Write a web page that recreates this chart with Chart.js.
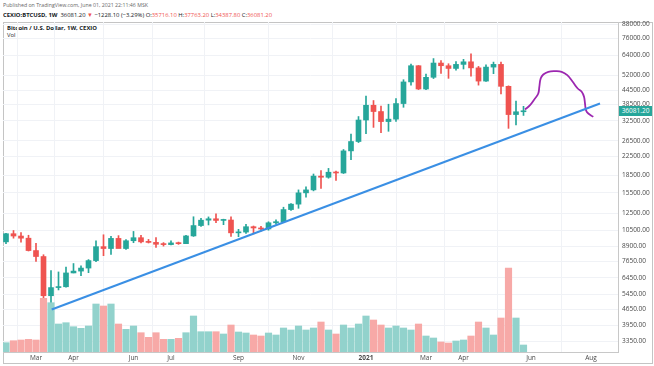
<!DOCTYPE html>
<html><head><meta charset="utf-8">
<script src="https://cdn.jsdelivr.net/npm/chart.js@4"></script>
<style>
html,body{margin:0;padding:0;background:#fff;}
#wrap{position:relative;width:654px;height:366px;overflow:hidden;font-family:"Open Sans",sans-serif;}
#pane{position:absolute;left:3px;top:22px;width:650px;height:342px;border:1px solid #c4c4c4;box-sizing:border-box;}
#c{position:absolute;left:0;top:0;}
.t{position:absolute;white-space:nowrap;line-height:1;transform-origin:0 50%;}
.r{color:#ef5350;}
#last{position:absolute;left:619px;top:106px;width:33px;height:10px;background:#26a69a;color:#fff;font-size:6.5px;line-height:10px;text-align:center;}
</style></head>
<body>
<div id="wrap">
  <div id="pane"></div>
  <div class="t" data-w="145" style="left:3px;top:2.5px;font-size:5.5px;color:#666;">Published on TradingView.com, June 01, 2021 22:11:46 MSK</div>
  <div class="t" data-w="269" style="left:3px;top:11.5px;font-size:6px;color:#131722;"><b>CEXIO:BTCUSD, 1W</b>&nbsp; 36081.20 <span class="r">▼</span> −1228.10 (−3.29%) O:<span class="r">35716.10</span> H:<span class="r">37763.20</span> L:<span class="r">34387.80</span> C:<span class="r">36081.20</span></div>
  <div class="t" data-w="90" style="left:7px;top:25.8px;font-size:5.8px;color:#131722;font-weight:bold;">Bitcoin / U.S. Dollar, 1W, CEXIO</div>
  <div class="t" style="left:7px;top:32.5px;font-size:5.8px;color:#131722;">Vol</div>
  <canvas id="c" width="654" height="366"></canvas>
  <div id="last">36081.20</div>
</div>
<script>
// ---- data (weekly candles, Monday start) ----
const weeks = ["2020-02-03","2020-02-10","2020-02-17","2020-02-24","2020-03-02","2020-03-09","2020-03-16","2020-03-23","2020-03-30",
"2020-04-06","2020-04-13","2020-04-20","2020-04-27","2020-05-04","2020-05-11","2020-05-18","2020-05-25","2020-06-01","2020-06-08",
"2020-06-15","2020-06-22","2020-06-29","2020-07-06","2020-07-13","2020-07-20","2020-07-27","2020-08-03","2020-08-10","2020-08-17",
"2020-08-24","2020-08-31","2020-09-07","2020-09-14","2020-09-21","2020-09-28","2020-10-05","2020-10-12","2020-10-19","2020-10-26",
"2020-11-02","2020-11-09","2020-11-16","2020-11-23","2020-11-30","2020-12-07","2020-12-14","2020-12-21","2020-12-28","2021-01-04",
"2021-01-11","2021-01-18","2021-01-25","2021-02-01","2021-02-08","2021-02-15","2021-02-22","2021-03-01","2021-03-08","2021-03-15",
"2021-03-22","2021-03-29","2021-04-05","2021-04-12","2021-04-19","2021-04-26","2021-05-03","2021-05-10","2021-05-17","2021-05-24","2021-05-31"];
const open  = [9340,10160,9920,9700,8540,8030,5360,5830,5880,6780,6910,7130,7700,8890,8720,9680,8720,9450,9750,9340,9290,9110,9080,9240,9170,9930,11050,11680,11850,11650,11700,10250,10330,10920,10780,10670,11370,11500,13030,13780,15480,15960,18400,18180,19150,19000,23860,26280,32800,38180,35800,32280,33100,38870,48580,57410,45160,50950,59020,57400,55820,58200,59770,56150,49000,56600,58200,46420,34700,35716];
const high  = [10190,10500,10270,10000,9190,8180,6950,6850,7200,7470,7290,7780,9450,10050,9900,9960,9560,10400,9990,9580,9760,9270,9440,9320,10000,12100,11900,12080,12470,11800,12090,10630,11180,11000,10950,11490,11720,13350,13860,15960,16480,18800,19480,19920,19400,24200,28400,34000,41950,40100,37850,38600,40950,49700,58350,57520,52650,61800,60600,58600,59900,61300,64900,57000,58000,59600,59600,46650,39900,37763];
const low   = [9160,9700,9300,8500,7630,3850,4450,5690,5860,6780,6600,6800,7610,8100,8200,8800,8650,9260,9250,9230,8830,8940,9050,9100,9160,9880,10940,11120,11370,11150,9880,9850,10200,10150,10440,10530,11210,11410,12900,13200,14800,15800,16200,18000,17600,18900,21800,26000,28500,30400,28800,29200,32300,37400,47000,44900,44900,50300,53000,50400,54800,55500,51500,47000,48800,52900,42900,30100,31200,34388];
const close = [10160,9920,9700,8540,8030,5360,5830,5880,6780,6910,7130,7700,8890,8720,9680,8720,9450,9750,9340,9290,9110,9080,9240,9170,9930,11050,11680,11850,11650,11700,10250,10330,10920,10780,10670,11370,11500,13030,13780,15480,15960,18400,18180,19150,19000,23860,26280,32800,38180,35800,32280,33100,38870,48580,57410,45160,50950,59020,57400,55820,58200,59770,56150,49000,56600,58200,46420,34700,35716,36081];
const volume = [930,1130,1200,1270,1200,5370,4930,2800,2930,2530,2370,2600,4800,4600,4800,2800,2270,2600,1930,1470,1930,1270,1270,1370,1930,3600,2030,2030,2030,1800,2700,2000,1900,1700,1600,1900,1700,2400,2200,2600,2200,2400,3000,2200,1800,2700,2400,2800,3600,3200,2700,2400,2600,2400,2200,2800,1600,1400,1000,900,1100,1200,1600,3000,2400,1700,3400,8400,3400,700];

// axis ticks
const priceTicks = [88000,76000,64000,52000,44500,38500,32500,26500,22500,18500,15500,12500,10500,8900,7650,6450,5450,4650,3950,3350];
const timeTickWeek = [4,9,17,22,31,39,48,56,61,70,78];
const timeTickText = ['Mar','Apr','Jun','Jul','Sep','Nov','2021','Mar','Apr','Jun','Aug'];

// drawings (week index, price)
const trendWeek  = [6.09, 79.2];
const trendPrice = [4650, 38880];
const sketchWeek  = [69.2,69.87,70.53,70.97,71.11,71.29,71.64,72.31,73.2,74.09,74.84,75.56,76.23,76.76,77.07,77.2,77.33,77.64,78.31];
const sketchPrice = [36550,38210,40940,43110,46190,50320,52440,53920,54250,53920,52060,48640,45390,43870,41660,38890,36290,35080,33900];

const UP='#26a69a', DOWN='#ef5350', UPV='#92d2cc', DOWNV='#f7a9a7';
const isUp = i => close[i] >= open[i];

const bodyData = weeks.map((w,i)=>({x:i, y:[open[i], close[i]]}));
const wickData = weeks.map((w,i)=>({x:i, y:[low[i], high[i]]}));
const volData  = weeks.map((w,i)=>({x:i, y:volume[i]}));
const trendData = trendWeek.map((w,i)=>({x:w, y:trendPrice[i]}));
const sketchData = sketchWeek.map((w,i)=>({x:w, y:sketchPrice[i]}));

new Chart(document.getElementById('c'), {
  type:'bar',
  data:{ datasets:[
    {type:'line', data:trendData, borderColor:'#3a8fe4', borderWidth:2, pointRadius:0, yAxisID:'y', order:0},
    {type:'line', data:sketchData, borderColor:'#9c27b0', borderWidth:1.8, pointRadius:0, tension:0.4, yAxisID:'y', order:0},
    {data:volData, yAxisID:'yv', barThickness:6.5, grouped:false, order:1,
      backgroundColor:ctx=>isUp(ctx.dataIndex)?UPV:DOWNV},
    {data:bodyData, yAxisID:'y', barThickness:5, grouped:false, minBarLength:1, order:2,
      backgroundColor:ctx=>isUp(ctx.dataIndex)?UP:DOWN},
    {data:wickData, yAxisID:'y', barThickness:1, grouped:false, order:3,
      backgroundColor:ctx=>isUp(ctx.dataIndex)?UP:DOWN}
  ]},
  options:{
    responsive:false, animation:false, devicePixelRatio:1,
    layout:{padding:{left:3, top:22, right:1, bottom:2}},
    plugins:{legend:{display:false}, tooltip:{enabled:false}},
    scales:{
      x:{type:'linear', min:-0.4, max:81.6, bounds:'data', offset:false,
        afterBuildTicks:s=>{ s.ticks = timeTickWeek.map(v=>({value:v})); },
        afterFit:s=>{ s.height = 12; },
        grid:{color:'#f0f2f6', drawTicks:false},
        border:{display:true, color:'#c8c8c8'},
        ticks:{autoSkip:false, maxRotation:0, padding:2, color:'#4a4a4a',
          font:ctx=>({family:'Open Sans', size:6.5, weight:(ctx.tick && ctx.tick.label==='2021')?'bold':'normal'}),
          callback:v=>timeTickText[timeTickWeek.indexOf(v)]}
      },
      y:{type:'logarithmic', position:'right', min:3001, max:90100, bounds:'data',
        afterBuildTicks:s=>{ s.ticks = priceTicks.map(v=>({value:v})); },
        afterFit:s=>{ s.width = 35; },
        grid:{color:'#f0f2f6', drawTicks:false},
        border:{display:true, color:'#c8c8c8'},
        ticks:{autoSkip:false, padding:4, color:'#4a4a4a', font:{family:'Open Sans', size:6.5},
          callback:v=>Number(v).toFixed(2)}
      },
      yv:{type:'linear', display:false, min:0, max:33000}
    }
  }
});

// fit header texts to their measured widths
document.querySelectorAll('.t[data-w]').forEach(el=>{
  const w = el.getBoundingClientRect().width;
  const target = +el.dataset.w;
  if (w>0) el.style.transform = 'scaleX(' + (target/w) + ')';
});
</script>
</body></html>
